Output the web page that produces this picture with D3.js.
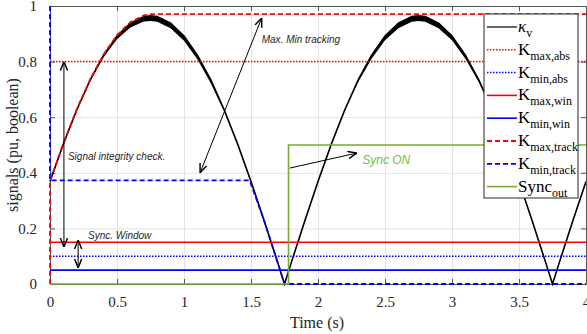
<!DOCTYPE html>
<html>
<head>
<meta charset="utf-8">
<script src="https://cdn.jsdelivr.net/npm/d3@7"></script>
<style>
  body { margin: 0; background: #fff; }
  svg { display: block; }
  .tick text { font-family: "Liberation Serif", "Times New Roman", serif; font-size: 15px; fill: #262626; }
  .note { font-family: "Liberation Sans", Arial, sans-serif; font-style: italic; font-size: 10px; fill: #262626; }
</style>
</head>
<body>
<div id="chart"></div>
<script>
var width = 587, height = 334;
var margin = {top: 6, right: 1, bottom: 50, left: 50};
var plotW = width - margin.left - margin.right,
    plotH = height - margin.top - margin.bottom;

// time axis samples and signals
var time = [0, 0.1, 0.2, 0.3, 0.4, 0.5, 0.6, 0.7, 0.75, 0.8, 0.9, 1.0, 1.1, 1.2, 1.3, 1.4, 1.5, 1.6, 1.7, 1.75,
            1.8, 1.9, 2.0, 2.1, 2.2, 2.3, 2.4, 2.5, 2.6, 2.7, 2.75, 2.8, 2.9, 3.0, 3.1, 3.2, 3.3, 3.4, 3.5, 3.6, 3.7, 3.75,
            3.8, 3.9, 4.0];
var kappa = [0.369, 0.504, 0.627, 0.734, 0.823, 0.892, 0.938, 0.962, 0.965, 0.962, 0.938, 0.892, 0.823, 0.734, 0.627, 0.504, 0.369, 0.225, 0.076, 0,
             0.076, 0.225, 0.369, 0.504, 0.627, 0.734, 0.823, 0.892, 0.938, 0.962, 0.965, 0.962, 0.938, 0.892, 0.823, 0.734, 0.627, 0.504, 0.369, 0.225, 0.076, 0,
             0.076, 0.225, 0.369];
// extra thickness of the noisy signal (band below the line)
var kappaRipple = [0, 0, 0, 0, 0.004, 0.008, 0.012, 0.014, 0.015, 0.015, 0.014, 0.013, 0.011, 0.008, 0.004, 0, 0, 0, 0, 0,
                   0, 0, 0, 0, 0, 0.004, 0.009, 0.012, 0.014, 0.015, 0.015, 0.015, 0.014, 0.012, 0.009, 0.005, 0, 0, 0, 0, 0, 0,
                   0, 0, 0];

var kmaxAbs = 0.8, kminAbs = 0.1, kmaxWin = 0.15, kminWin = 0.05;

var kmaxTrackT = [0, 0, 0.1, 0.2, 0.3, 0.4, 0.5, 0.6, 0.7, 0.76, 4];
var kmaxTrackV = [0, 0.37, 0.506, 0.629, 0.736, 0.826, 0.895, 0.942, 0.966, 0.971, 0.971];
var kminTrackT = [0, 0, 1.49, 1.6, 1.7, 1.75, 4];
var kminTrackV = [1, 0.373, 0.373, 0.225, 0.076, 0, 0];
var syncT = [0, 1.78, 1.78, 4];
var syncV = [0, 0, 0.5, 0.5];

var xTicks = [0, 0.5, 1, 1.5, 2, 2.5, 3, 3.5, 4];
var yTicks = [0, 0.2, 0.4, 0.6, 0.8, 1];

var legendNames = [["\u03BA", "v"], ["K", "max,abs"], ["K", "min,abs"], ["K", "max,win"], ["K", "min,win"],
                   ["K", "max,track"], ["K", "min,track"], ["Sync", "out"]];

var red = "#ff0000", blue = "#0000ff", green = "#77ac30";

var svg = d3.select("#chart").append("svg")
            .attr("width", width)
            .attr("height", height);

var x = d3.scaleLinear().domain([0, 4]).range([0, plotW]);
var y = d3.scaleLinear().domain([0, 1]).range([plotH, 0]);

var g = svg.append("g").attr("transform", "translate(" + margin.left + "," + margin.top + ")");

svg.append("defs").append("clipPath").attr("id", "clip")
   .append("rect").attr("x", -2).attr("y", -2).attr("width", plotW + 2).attr("height", plotH + 4);

// grid
g.append("g").attr("transform", "translate(0," + plotH + ")")
 .call(d3.axisBottom(x).tickValues(xTicks).tickSize(-plotH).tickFormat(""))
 .call(function(s) { s.select(".domain").remove(); s.selectAll("line").attr("stroke", "#e3e3e3"); });
g.append("g")
 .call(d3.axisLeft(y).tickValues(yTicks).tickSize(-plotW).tickFormat(""))
 .call(function(s) { s.select(".domain").remove(); s.selectAll("line").attr("stroke", "#e3e3e3"); });

// axes with inward ticks
function styleAxis(s) {
  s.select(".domain").attr("stroke", "#555");
  s.selectAll(".tick line").attr("stroke", "#555");
}
g.append("g").attr("transform", "translate(0," + plotH + ")")
 .call(d3.axisBottom(x).tickValues(xTicks).tickSizeInner(-5).tickSizeOuter(0).tickPadding(12).tickFormat(d3.format("")))
 .call(styleAxis);
g.append("g")
 .call(d3.axisTop(x).tickValues(xTicks).tickSizeInner(-5).tickSizeOuter(0).tickFormat(""))
 .call(styleAxis);
g.append("g")
 .call(d3.axisLeft(y).tickValues(yTicks).tickSizeInner(-5).tickSizeOuter(0).tickPadding(13).tickFormat(d3.format("")))
 .call(styleAxis);
g.append("g").attr("transform", "translate(" + plotW + ",0)")
 .call(d3.axisRight(y).tickValues(yTicks).tickSizeInner(-5).tickSizeOuter(0).tickFormat(""))
 .call(styleAxis);

// axis titles
svg.append("text")
   .attr("x", margin.left + plotW / 2 - 1).attr("y", 328)
   .attr("text-anchor", "middle")
   .style("font-family", "Liberation Serif, serif").style("font-size", "16px").style("fill", "#262626")
   .text("Time (s)");
svg.append("text")
   .attr("transform", "translate(18," + (margin.top + plotH / 2) + ") rotate(-90)")
   .attr("text-anchor", "middle")
   .style("font-family", "Liberation Serif, serif").style("font-size", "16px").style("fill", "#262626")
   .text("signals (pu, boolean)");

var plot = g.append("g").attr("clip-path", "url(#clip)");
var line = d3.line().x(function(d) { return x(d[0]); }).y(function(d) { return y(d[1]); });

// kappa_v
var kappaPts = time.map(function(t, i) { return [t, kappa[i], kappaRipple[i]]; });
plot.append("path")
    .datum(kappaPts)
    .attr("fill", "#000")
    .attr("d", d3.area()
      .x(function(d) { return x(d[0]); })
      .y0(function(d) { return y(d[1] - d[2]) + 1; })
      .y1(function(d) { return y(d[1]); }));
plot.append("path").datum(kappaPts)
    .attr("fill", "none").attr("stroke", "#000").attr("stroke-width", 1.6)
    .attr("d", line);

function hline(v) { return [[0, v], [4, v]]; }
function zip(a, b) { return a.map(function(t, i) { return [t, b[i]]; }); }

var series = [
  {pts: hline(kmaxAbs), color: red, dash: "1.5,1.5", w: 1.5},
  {pts: hline(kminAbs), color: blue, dash: "1.5,1.5", w: 1.5},
  {pts: hline(kmaxWin), color: red, dash: null, w: 1.6},
  {pts: hline(kminWin), color: blue, dash: null, w: 1.6},
  {pts: zip(kmaxTrackT, kmaxTrackV), color: red, dash: "5,3", w: 1.8},
  {pts: zip(kminTrackT, kminTrackV), color: blue, dash: "5,3", w: 1.8},
  {pts: zip(syncT, syncV), color: green, dash: null, w: 1.6}
];

plot.selectAll(".sig").data(series).enter().append("path")
    .attr("class", "sig")
    .attr("fill", "none")
    .attr("stroke", function(d) { return d.color; })
    .attr("stroke-width", function(d) { return d.w; })
    .attr("stroke-dasharray", function(d) { return d.dash; })
    .attr("d", function(d) { return line(d.pts); });

// annotations
var defs = svg.select("defs");
function marker(id, color) {
  defs.append("marker").attr("id", id)
      .attr("viewBox", "0 -5 10 10").attr("refX", 10).attr("refY", 0)
      .attr("markerWidth", 9).attr("markerHeight", 9).attr("markerUnits", "userSpaceOnUse")
      .attr("orient", "auto-start-reverse")
      .append("path").attr("d", "M0,-4L10,0L0,4").attr("fill", "none").attr("stroke", color).attr("stroke-width", 1.6);
}
marker("arr", "#000");

function arrow(t0, v0, t1, v1, both) {
  var a = g.append("line")
    .attr("x1", x(t0)).attr("y1", y(v0)).attr("x2", x(t1)).attr("y2", y(v1))
    .attr("stroke", "#000").attr("stroke-width", 1)
    .attr("marker-end", "url(#arr)");
  if (both) a.attr("marker-start", "url(#arr)");
}
arrow(0.104, 0.8, 0.104, 0.133, true);
arrow(0.21, 0.158, 0.21, 0.058, true);
arrow(1.58, 0.957, 1.12, 0.40, true);
arrow(1.79, 0.417, 2.29, 0.471, false);

function note(t, v, txt, color, size) {
  g.append("text").attr("class", "note")
   .attr("x", x(t)).attr("y", y(v))
   .style("fill", color || "#262626")
   .style("font-size", size || "10px")
   .text(txt);
}
note(1.58, 0.867, "Max. Min tracking");
note(0.134, 0.446, "Signal integrity check.");
note(0.284, 0.162, "Sync. Window");
note(2.33, 0.432, "Sync ON", "#6cc33a", "12px");

// legend
var lx = 484, ly = 14, lw = 94, lh = 184, rowH = 22.8;
var legend = svg.append("g");
legend.append("rect").attr("x", lx).attr("y", ly).attr("width", lw).attr("height", lh)
      .attr("fill", "#fff").attr("stroke", "#262626").attr("stroke-width", 1);

var legendStyles = [{color: "#000", dash: null, w: 1.2}].concat(series);
var item = legend.selectAll(".item").data(legendNames).enter().append("g")
    .attr("class", "item")
    .attr("transform", function(d, i) { return "translate(" + lx + "," + (ly + 13 + i * rowH) + ")"; });
item.append("line")
    .attr("x1", 3).attr("x2", 33).attr("y1", 0).attr("y2", 0)
    .attr("stroke", function(d, i) { return legendStyles[i].color; })
    .attr("stroke-width", function(d, i) { return i === 0 ? 1.2 : legendStyles[i].w; })
    .attr("stroke-dasharray", function(d, i) { return legendStyles[i].dash; });
var lt = item.append("text")
    .attr("x", 34).attr("y", 5)
    .style("font-family", "Liberation Serif, serif").style("fill", "#000");
lt.append("tspan").style("font-size", "17px")
  .style("font-style", function(d, i) { return i === 0 ? "italic" : "normal"; })
  .text(function(d) { return d[0]; });
lt.append("tspan").attr("dy", 5).style("font-size", "12px").text(function(d) { return d[1]; });
</script>
</body>
</html>
